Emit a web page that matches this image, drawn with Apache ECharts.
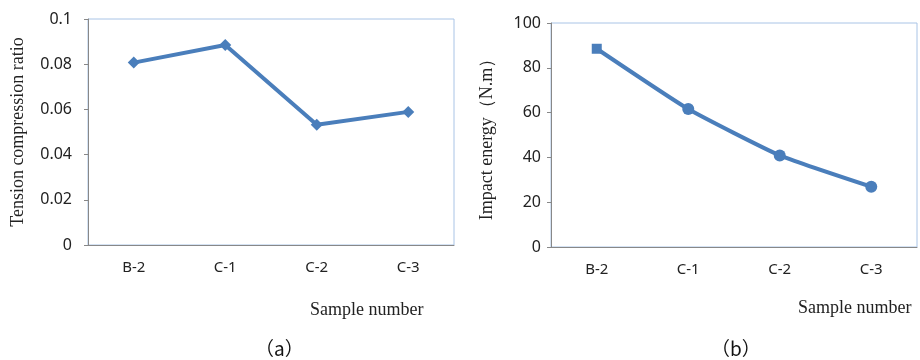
<!DOCTYPE html>
<html>
<head>
<meta charset="utf-8">
<script src="https://cdn.jsdelivr.net/npm/echarts@6/dist/echarts.min.js"></script>
<style>
  html, body { margin: 0; padding: 0; background: #fff; }
  #chart { width: 920px; height: 360px; }
</style>
</head>
<body>
<div id="chart"></div>
<script>
const samples = ['B-2', 'C-1', 'C-2', 'C-3'];
const ratio = [0.0807, 0.0885, 0.0532, 0.0589];
const energy = [88.5, 61.6, 40.9, 26.9];

const blue = '#4a7ebb';
const serif = '"Liberation Serif", "DejaVu Serif", serif';
const sans = '"Noto Sans", "DejaVu Sans", sans-serif';

const myChart = echarts.init(document.getElementById('chart'));

const catAxis = (gridIndex) => {
  return {
    type: 'category',
    gridIndex: gridIndex,
    data: samples,
    boundaryGap: true,
    axisLine: {lineStyle: {color: '#888', width: 1}},
    axisTick: {alignWithLabel: true, length: 6, lineStyle: {color: '#888'}},
    axisLabel: {color: '#222', fontFamily: sans, fontSize: 15, margin: 15}
  };
};

const valAxis = (gridIndex, max, interval, name) => {
  return {
    type: 'value',
    gridIndex: gridIndex,
    min: 0,
    max: max,
    interval: interval,
    name: name,
    nameLocation: 'middle',
    nameGap: gridIndex === 0 ? 61 : 55,
    nameTextStyle: {fontFamily: serif, fontSize: 18, color: '#222'},
    axisLine: {show: true, lineStyle: {color: '#888', width: 1}},
    axisTick: {show: true, length: 4, lineStyle: {color: '#888'}},
    axisLabel: {color: '#222', fontFamily: sans, fontSize: 16, margin: gridIndex === 0 ? 16 : 10},
    splitLine: {show: false}
  };
};

const option = {
  animation: false,
  backgroundColor: '#fff',
  title: [
    {text: 'Sample number', left: 305, top: 296,
      textStyle: {fontFamily: serif, fontSize: 18, fontWeight: 'normal', color: '#222'}},
    {text: 'Sample number', left: 793, top: 294,
      textStyle: {fontFamily: serif, fontSize: 18, fontWeight: 'normal', color: '#222'}},
    {text: '（a）', left: 250, top: 334,
      textStyle: {fontFamily: '"Noto Sans CJK SC", sans-serif', fontSize: 19, fontWeight: 'normal', color: '#111'}},
    {text: '（b）', left: 706, top: 334,
      textStyle: {fontFamily: '"Noto Sans CJK SC", sans-serif', fontSize: 19, fontWeight: 'normal', color: '#111'}}
  ],
  grid: [
    {left: 88, top: 19, width: 366, height: 226, show: true, borderColor: '#a9c4e6', borderWidth: 1},
    {left: 551, top: 23, width: 366, height: 224, show: true, borderColor: '#a9c4e6', borderWidth: 1}
  ],
  xAxis: [catAxis(0), catAxis(1)],
  yAxis: [
    valAxis(0, 0.1, 0.02, 'Tension compression ratio'),
    valAxis(1, 100, 20, 'Impact energy（N.m）')
  ],
  series: [
    {
      type: 'line',
      xAxisIndex: 0,
      yAxisIndex: 0,
      data: ratio,
      symbol: 'diamond',
      symbolSize: 12,
      lineStyle: {color: blue, width: 4},
      itemStyle: {color: blue}
    },
    {
      type: 'line',
      xAxisIndex: 1,
      yAxisIndex: 1,
      smooth: 0.15,
      data: energy.map((v, i) => {
        return i === 0 ? {value: v, symbol: 'rect', symbolSize: 10} : {value: v};
      }),
      symbol: 'circle',
      symbolSize: 12,
      lineStyle: {color: blue, width: 4},
      itemStyle: {color: blue}
    }
  ]
};

myChart.setOption(option);
</script>
</body>
</html>
